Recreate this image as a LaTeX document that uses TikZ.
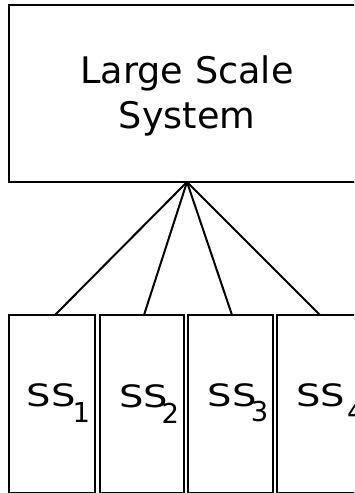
\documentclass[tikz,border=0pt]{standalone}
\usepackage{fontspec}
\usepackage{graphicx}
\setmainfont{DejaVu Sans}
\begin{document}
\begin{tikzpicture}[x=1pt,y=1pt,
  box/.style={draw, line width=2pt, inner sep=0pt, outer sep=0pt},
  link/.style={line width=2pt},
  main/.style={anchor=base west, inner sep=0pt, font=\fontsize{30.8}{37}\selectfont},
  sub/.style={anchor=base west, inner sep=0pt, font=\fontsize{27.4}{33}\selectfont},
  title/.style={align=center, inner sep=0pt, font=\fontsize{36.6}{45}\selectfont}]
\useasboundingbox (0,0) rectangle (354,493);
\clip (0,0) rectangle (354,493);

% the whole system
\node[box, minimum width=356pt, minimum height=177pt] (lss) at (187,399.5) {};
\node[title] (lsstext) at ([yshift=-2.5pt]lss.center) {Large Scale\\System};

% the subsystems
\node[box, minimum width=86pt, minimum height=178pt] (ss1) at (52,89) {};
\node[box, minimum width=84pt, minimum height=178pt] (ss2) at (142,89) {};
\node[box, minimum width=85pt, minimum height=178pt] (ss3) at (230.5,89) {};
\node[box, minimum width=85pt, minimum height=178pt] (ss4) at (319.5,89) {};

% subsystem labels
\node[main] (l1) at (26.5,86) {\scalebox{1.25}[1]{SS}};
\node[sub]  (n1) at (72.5,70) {1};
\node[main] (l2) at (119.2,85.7) {\scalebox{1.25}[1]{SS}};
\node[sub]  (n2) at (161.3,69) {2};
\node[main] (l3) at (207.5,86) {\scalebox{1.25}[1]{SS}};
\node[sub]  (n3) at (250.6,71.5) {3};
\node[main] (l4) at (295.8,86.7) {\scalebox{1.25}[1]{SS}};
\node[sub]  (n4) at (347,71) {4};

% decomposition links
\draw[link] (lss.south) -- ([xshift=3pt]ss1.north);
\draw[link] (lss.south) -- ([xshift=2pt]ss2.north);
\draw[link] (lss.south) -- ([xshift=1.5pt]ss3.north);
\draw[link] (lss.south) -- ([xshift=0.5pt]ss4.north);
\end{tikzpicture}
\end{document}
